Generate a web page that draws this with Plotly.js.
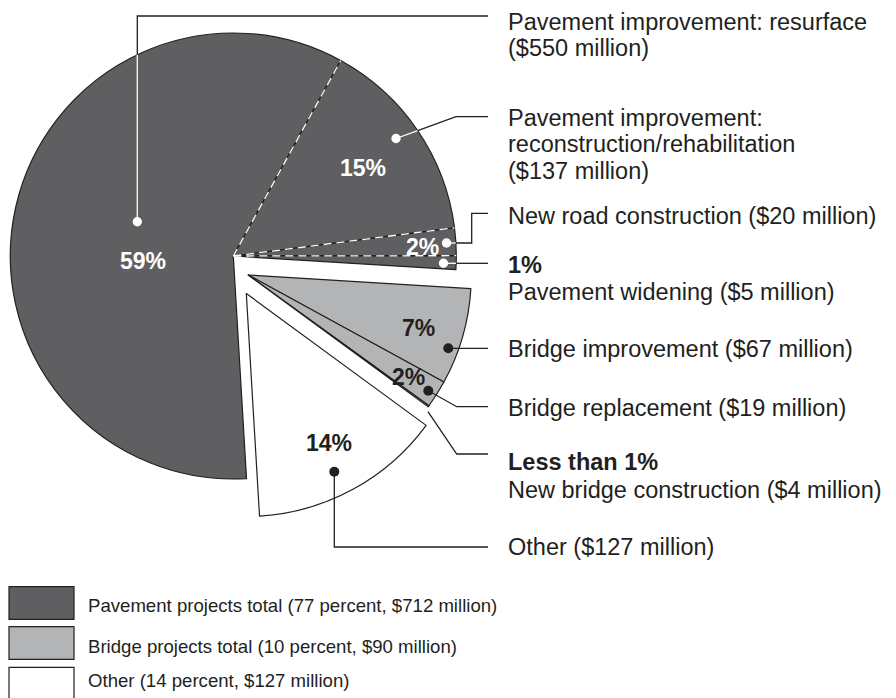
<!DOCTYPE html>
<html><head><meta charset="utf-8">
<script src="https://cdn.plot.ly/plotly-3.0.1.min.js"></script>
<style>html,body{margin:0;padding:0;background:#fff;}#chart{width:896px;height:698px;}</style>
</head><body><div id="chart"></div>
<script>
// ---- data ----
const categories = ["Pavement improvement: resurface", "Pavement improvement: reconstruction/rehabilitation", "New road construction", "Pavement widening", "Bridge improvement", "Bridge replacement", "New bridge construction", "Other"];
const groups = ["pavement", "pavement", "pavement", "pavement", "bridge", "bridge", "bridge", "other"];
const percentShares = [59, 15, 2, 1, 7, 2, 0.1, 14];
const millions = [550, 137, 20, 5, 67, 19, 4, 127];
const percentLabels = ["59%", "15%", "2%", "1%", "7%", "2%", "Less than 1%", "14%"];
const calloutLines = [
  ["Pavement improvement: resurface", "($550 million)"],
  ["Pavement improvement:", "reconstruction/rehabilitation", "($137 million)"],
  ["New road construction ($20 million)"],
  ["<b>1%</b>", "Pavement widening ($5 million)"],
  ["Bridge improvement ($67 million)"],
  ["Bridge replacement ($19 million)"],
  ["<b>Less than 1%</b>", "New bridge construction ($4 million)"],
  ["Other ($127 million)"]
];
const groupNames = ["pavement", "bridge", "other"];
const groupLegend = ["Pavement projects total (77 percent, $712 million)", "Bridge projects total (10 percent, $90 million)", "Other (14 percent, $127 million)"];

// ---- styling / layout ----
const W = 896, H = 698, R = 223, ROT = 176.6;
const INK = "#231f20";
const FONT = "'Liberation Sans', Arial, Helvetica, sans-serif";
const groupColor = {pavement: "#5f5f61", bridge: "#b3b4b6", other: "#ffffff"};
const groupCenter = {pavement: [233.3, 256], bridge: [248.3, 275], other: [246.3, 293.5]};

function px(x) { return x / W; }
function py(y) { return 1 - y / H; }
function P(x, y) { return px(x) + "," + py(y); }

function pieFor(g) {
  const [cx, cy] = groupCenter[g];
  return {
    type: "pie", values: percentShares, labels: categories, sort: false,
    direction: "clockwise", rotation: ROT,
    marker: {
      colors: groups.map(gr => gr === g ? groupColor[g] : "rgba(0,0,0,0)"),
      line: {color: groups.map(gr => gr === g ? INK : "rgba(0,0,0,0)"), width: 1.2}
    },
    textinfo: "none", hoverinfo: "skip", showlegend: false,
    domain: {x: [px(cx - R), px(cx + R)], y: [py(cy + R), py(cy - R)]}
  };
}
const data = groupNames.map(pieFor);

const shapes = [];
// dashed white dividers between pavement slices
const total = percentShares.reduce((a, b) => a + b, 0);
let cum = 0;
for (let i = 0; i < percentShares.length - 1; i++) {
  cum += percentShares[i];
  if (groups[i] === "pavement" && groups[i + 1] === "pavement") {
    const a = (ROT + 360 * cum / total) * Math.PI / 180;
    const [cx, cy] = groupCenter.pavement;
    shapes.push({type: "line", xref: "paper", yref: "paper",
      x0: px(cx), y0: py(cy), x1: px(cx + R * Math.sin(a)), y1: py(cy - R * Math.cos(a)),
      line: {color: "#ffffff", width: 1.3, dash: "8px,5px"}});
  }
}
function path(pts, color) {
  shapes.push({type: "path", xref: "paper", yref: "paper",
    path: "M" + pts.map(p => P(p[0], p[1])).join("L"),
    line: {color: color, width: 1.3}});
}
function dot(x, y, color, r) {
  r = r || 4.7;
  shapes.push({type: "circle", xref: "paper", yref: "paper",
    x0: px(x - r), x1: px(x + r), y0: py(y + r), y1: py(y - r),
    fillcolor: color, line: {width: 0}});
}
// leader lines
path([[137.3, 221.7], [137.3, 54.7]], "#ffffff");
path([[137.3, 54.7], [137.3, 16], [488, 16]], INK);
dot(137.3, 221.7, "#ffffff");
path([[396, 138.5], [417.7, 130.6]], "#ffffff");
path([[417.7, 130.6], [456, 116.7], [488, 116.7]], INK);
dot(396, 138.5, "#ffffff");
path([[446.5, 243], [455.9, 243]], "#ffffff");
path([[455.9, 243], [471.7, 243], [471.7, 213.3], [488, 213.3]], INK);
dot(446.5, 243, "#ffffff");
path([[443.5, 263.3], [456.2, 263.3]], "#ffffff");
path([[456.2, 263.3], [488, 263.3]], INK);
dot(443.5, 263.3, "#ffffff");
path([[448.3, 348.3], [488, 348.3]], INK);
dot(448.3, 348.3, INK, 5);
path([[428.3, 390.7], [456.7, 406.7], [488, 406.7]], INK);
dot(428.3, 390.7, INK, 5);
path([[428, 411.7], [456.7, 454], [488, 454]], INK);
path([[334.3, 471.7], [334.3, 547], [488, 547]], INK);
dot(334.3, 471.7, INK, 5);

// legend boxes
const legendY = [[586.7, 619.3], [626.7, 659.3], [667.3, 702]];
groupNames.forEach((g, i) => {
  shapes.push({type: "rect", xref: "paper", yref: "paper",
    x0: px(9), x1: px(74), y0: py(legendY[i][1]), y1: py(legendY[i][0]),
    fillcolor: groupColor[g], line: {color: INK, width: 1.2}});
});

const annotations = [];
function txt(x, y, text, size, color, anchor, bold) {
  annotations.push({xref: "paper", yref: "paper", x: px(x), y: py(y), text: bold ? "<b>" + text + "</b>" : text,
    showarrow: false, xanchor: anchor || "left", yanchor: "middle",
    font: {family: FONT, size: size, color: color}});
}
// percent labels inside slices
const pctPos = [[143, 261, "#ffffff"], [362.7, 168.3, "#ffffff"], [422.7, 246.7, "#ffffff"], null,
                [418.3, 328.3, INK], [408.3, 376.7, INK], null, [329, 442.7, INK]];
pctPos.forEach((p, i) => { if (p) txt(p[0], p[1], percentLabels[i], 23, p[2], "center", true); });
// callouts
const calloutY = [[21.7, 47.5], [117.5, 144, 171], [215.5], [265, 292], [349], [408], [462, 490], [547]];
calloutLines.forEach((lines, i) => {
  lines.forEach((l, j) => txt(506, calloutY[i][j], l, 23.5, INK, "left"));
});
// legend texts
const legendTextY = [605, 646.5, 680];
groupLegend.forEach((t, i) => txt(86, legendTextY[i], t, 18.6, INK, "left"));

const layout = {
  width: W, height: H, margin: {l: 0, r: 0, t: 0, b: 0, pad: 0},
  paper_bgcolor: "#ffffff", plot_bgcolor: "#ffffff",
  showlegend: false, shapes: shapes, annotations: annotations,
  font: {family: FONT, color: INK}
};
Plotly.newPlot("chart", data, layout, {staticPlot: true, displayModeBar: false});
</script></body></html>
